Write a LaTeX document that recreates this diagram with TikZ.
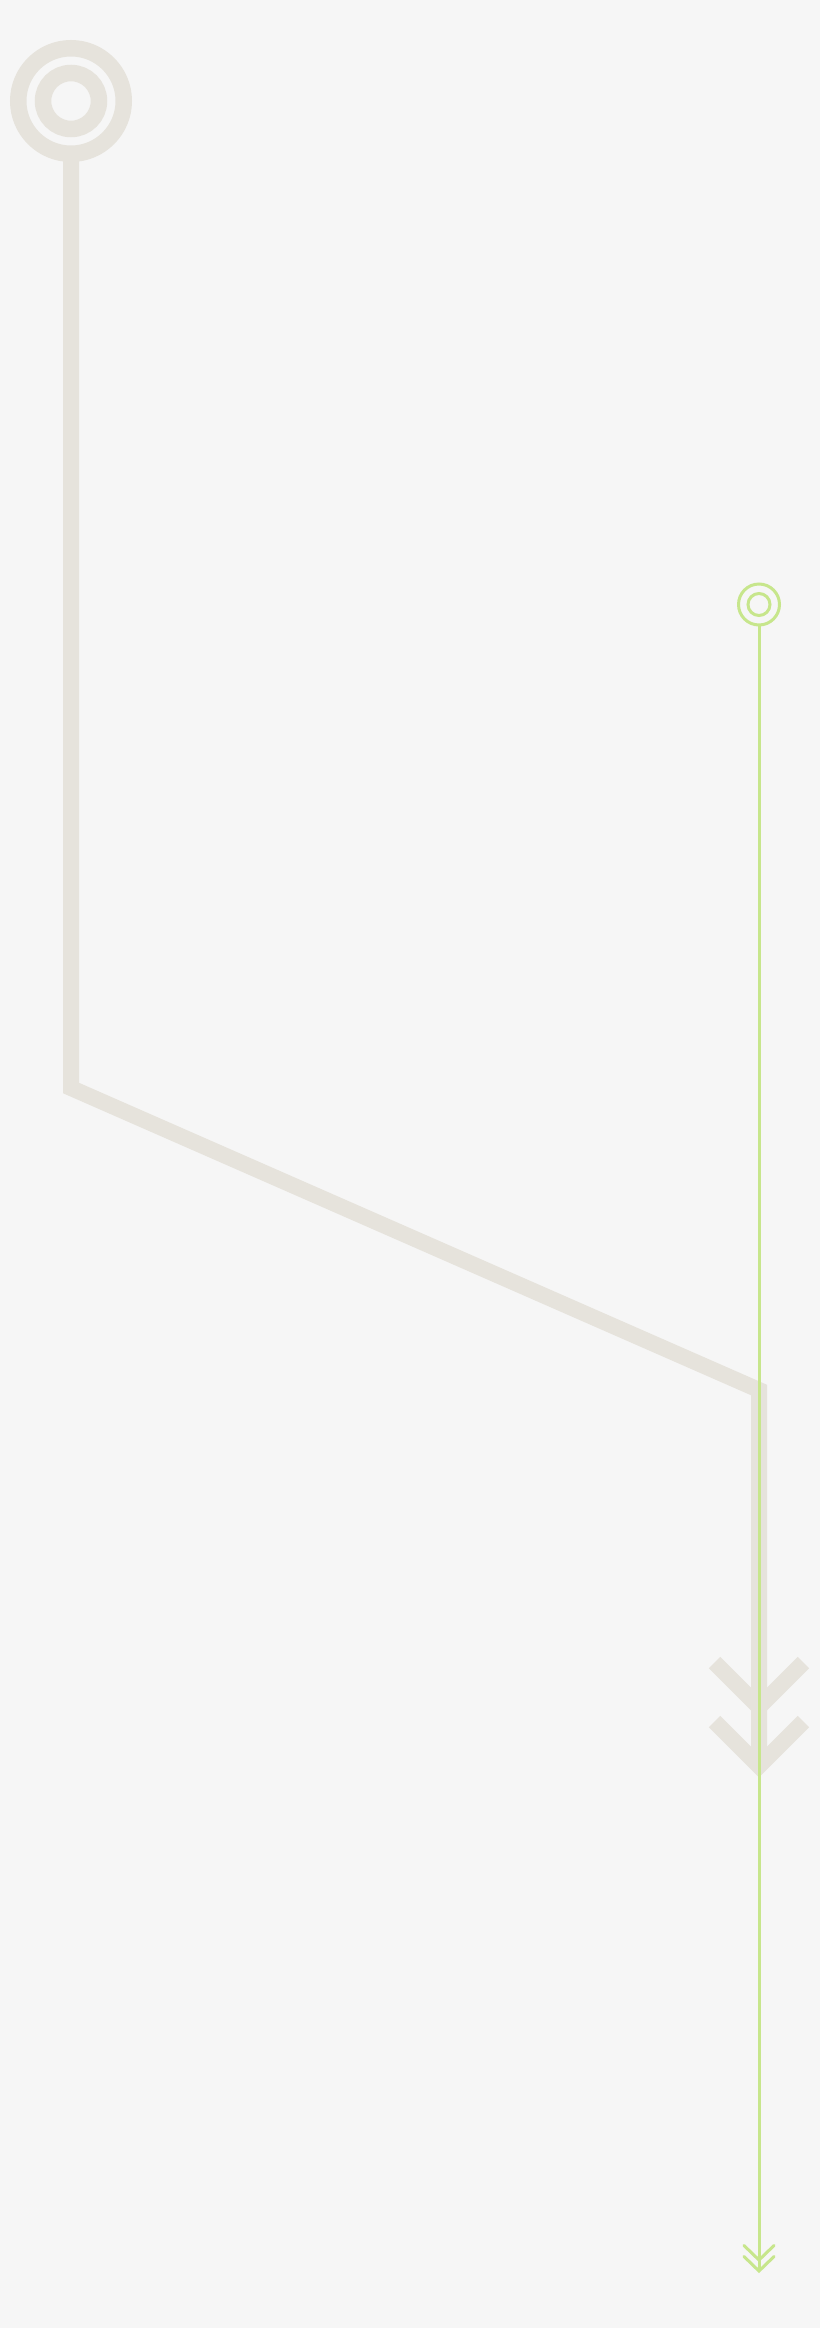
\documentclass[tikz,border=0pt]{standalone}
\usepackage{tikz}
\usetikzlibrary{calc}

\definecolor{pagegray}{RGB}{246,246,246}
\definecolor{trackgray}{RGB}{230,227,220}
\definecolor{limeline}{RGB}{199,230,140}

\tikzset{
    wide track/.style={draw=trackgray, line width=16pt, miter limit=10},
    thin track/.style={draw=limeline, line width=3pt}
}

\begin{document}
\begin{tikzpicture}[x=1pt,y=1pt,yscale=-1,xscale=1]

            % Background
            \fill[pagegray] (0,0) rectangle (820,2328);
            \useasboundingbox (0,0) rectangle (820,2328);

            \coordinate (grayhub) at (71,101);
            \coordinate (graybend) at (71,1088);
            \coordinate (graykink) at (759,1390);
            \coordinate (graytip) at (759,1766);
            \coordinate (limehub) at (759,604.5);
            \coordinate (limetip) at (759,2271);

            % Shape: Circle
            \draw [wide track, line width=16.5pt] (grayhub) circle [radius=52.75];
            % Shape: Circle
            \draw [wide track, line width=16.5pt] (grayhub) circle [radius=28];
            % Shape: Polyline
            \draw [wide track] ($(grayhub)+(0,52.75)$) -- (graybend) -- (graykink) -- (graytip) ;
            % Shape: Chevron
            \draw [wide track] (714.5,1662.5) -- (759,1707) -- (803.5,1662.5) ;
            % Shape: Chevron
            \draw [wide track] (714.5,1721.5) -- (graytip) -- (803.5,1721.5) ;

            % Shape: Circle
            \draw [thin track] (limehub) circle [radius=20.5];
            % Shape: Circle
            \draw [thin track] (limehub) circle [radius=11];
            % Shape: Line
            \draw [thin track] ($(limehub)+(0,20.5)$) -- (limetip) ;
            % Shape: Chevron
            \draw [thin track, line cap=round] (744,2245.5) -- (759,2260) -- (774,2245.5) ;
            % Shape: Chevron
            \draw [thin track, line cap=round] (744,2256.5) -- (limetip) -- (774,2256.5) ;

\end{tikzpicture}
\end{document}
